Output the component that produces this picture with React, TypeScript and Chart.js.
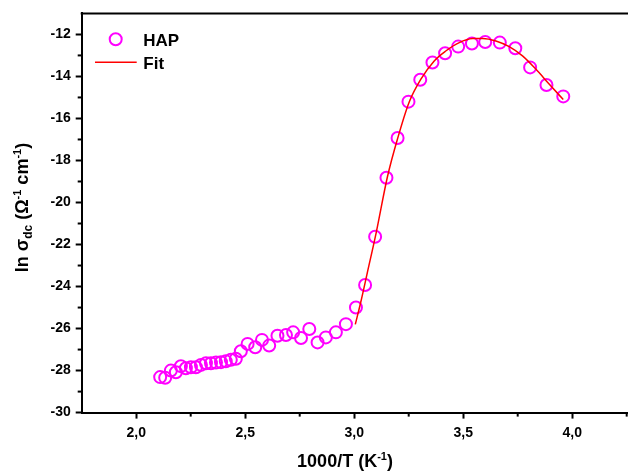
import React, { useEffect, useRef } from "react";
import { Chart, registerables } from "chart.js";

Chart.register(...registerables);

const hapX = [
  2.110, 2.133, 2.159, 2.182, 2.205, 2.228, 2.251, 2.274, 2.297, 2.320,
  2.343, 2.366, 2.389, 2.411, 2.434, 2.457, 2.480, 2.511, 2.546, 2.577,
  2.610, 2.648, 2.687, 2.720, 2.756, 2.794, 2.832, 2.870, 2.916, 2.962,
  3.008, 3.050, 3.096, 3.148, 3.199, 3.249, 3.303, 3.359, 3.417, 3.477,
  3.540, 3.601, 3.668, 3.739, 3.807, 3.882, 3.959,
];
const hapY = [
  -28.31, -28.34, -28.0, -28.08, -27.79, -27.89, -27.84, -27.84, -27.73, -27.65,
  -27.65, -27.62, -27.6, -27.56, -27.49, -27.44, -27.08, -26.73, -26.89, -26.54,
  -26.81, -26.34, -26.31, -26.18, -26.45, -26.02, -26.66, -26.42, -26.18, -25.79,
  -25.0, -23.93, -21.63, -18.82, -16.93, -15.2, -14.16, -13.34, -12.9, -12.58,
  -12.43, -12.36, -12.39, -12.66, -13.57, -14.41, -14.95,
];

const fitX = [
  3.005, 3.03, 3.06, 3.10, 3.153, 3.199, 3.252, 3.306, 3.367, 3.42,
  3.482, 3.543, 3.589, 3.65, 3.711, 3.772, 3.833, 3.894, 3.959,
];
const fitY = [
  -25.8, -24.75, -23.35, -21.48, -18.75, -16.96, -15.23, -14.13, -13.26, -12.79,
  -12.39, -12.2, -12.19, -12.31, -12.58, -13.02, -13.65, -14.36, -15.1,
];

const xTicks = [2.0, 2.5, 3.0, 3.5, 4.0];
const xMinorTicks = [2.25, 2.75, 3.25, 3.75, 4.25];
const yTicks = [-12, -14, -16, -18, -20, -22, -24, -26, -28, -30];
const yMinorTicks = [-13, -15, -17, -19, -21, -23, -25, -27, -29];

const legendLabels = ["HAP", "Fit"];

const FONT = "'Liberation Sans', Arial, sans-serif";
const MAGENTA = "#FF00FF";
const RED = "#FF0000";

type Seg = { t: string; size: number; dy: number };

function drawRich(ctx: CanvasRenderingContext2D, segs: Seg[], cx: number, cy: number) {
  let total = 0;
  for (const s of segs) {
    ctx.font = `bold ${s.size}px ${FONT}`;
    total += ctx.measureText(s.t).width;
  }
  let x = cx - total / 2;
  ctx.textAlign = "left";
  ctx.textBaseline = "alphabetic";
  for (const s of segs) {
    ctx.font = `bold ${s.size}px ${FONT}`;
    ctx.fillText(s.t, x, cy + s.dy);
    x += ctx.measureText(s.t).width;
  }
}

const decorPlugin = {
  id: "decor",
  afterDraw(chart: any) {
    const ctx: CanvasRenderingContext2D = chart.ctx;
    const area = chart.chartArea;
    const xs = chart.scales.x;
    const ys = chart.scales.y;
    ctx.save();
    // top border
    ctx.strokeStyle = "#000";
    ctx.lineWidth = 2;
    ctx.beginPath();
    ctx.moveTo(area.left - 1, area.top);
    ctx.lineTo(area.right, area.top);
    ctx.stroke();
    // minor ticks
    ctx.lineWidth = 2;
    for (const v of yMinorTicks) {
      const p = ys.getPixelForValue(v);
      ctx.beginPath();
      ctx.moveTo(area.left, p);
      ctx.lineTo(area.left - 4, p);
      ctx.stroke();
    }
    for (const v of xMinorTicks) {
      const p = xs.getPixelForValue(v);
      ctx.beginPath();
      ctx.moveTo(p, area.bottom);
      ctx.lineTo(p, area.bottom + 4);
      ctx.stroke();
    }
    // axis titles
    ctx.fillStyle = "#000";
    drawRich(
      ctx,
      [
        { t: "1000/T (K", size: 18, dy: 0 },
        { t: "-1", size: 11, dy: -7 },
        { t: ")", size: 18, dy: 0 },
      ],
      345,
      466.5
    );
    ctx.save();
    ctx.translate(28, 207.5);
    ctx.rotate(-Math.PI / 2);
    drawRich(
      ctx,
      [
        { t: "ln σ", size: 18, dy: 0 },
        { t: "dc", size: 12, dy: 4 },
        { t: " (Ω", size: 18, dy: 0 },
        { t: "-1", size: 11, dy: -7 },
        { t: " cm", size: 18, dy: 0 },
        { t: "-1", size: 11, dy: -7 },
        { t: ")", size: 18, dy: 0 },
      ],
      0,
      0
    );
    ctx.restore();
    // legend
    ctx.strokeStyle = MAGENTA;
    ctx.lineWidth = 2;
    ctx.beginPath();
    ctx.arc(115.7, 39.3, 6, 0, Math.PI * 2);
    ctx.stroke();
    ctx.strokeStyle = RED;
    ctx.lineWidth = 1.5;
    ctx.beginPath();
    ctx.moveTo(95, 62.3);
    ctx.lineTo(136.7, 62.3);
    ctx.stroke();
    ctx.fillStyle = "#000";
    ctx.font = `bold 17px ${FONT}`;
    ctx.textAlign = "left";
    ctx.textBaseline = "alphabetic";
    ctx.fillText(legendLabels[0], 143.3, 45.7);
    ctx.fillText(legendLabels[1], 143.3, 69.3);
    ctx.restore();
  },
};

export default function App() {
  const ref = useRef<HTMLCanvasElement | null>(null);
  useEffect(() => {
    if (!ref.current) return;
    const chart = new Chart(ref.current, {
      type: "scatter",
      data: {
        datasets: [
          {
            label: legendLabels[1],
            data: fitX.map((x, i) => ({ x, y: fitY[i] })),
            showLine: true,
            borderColor: RED,
            borderWidth: 1.5,
            pointRadius: 0,
            cubicInterpolationMode: "monotone",
            fill: false,
          } as any,
          {
            label: legendLabels[0],
            data: hapX.map((x, i) => ({ x, y: hapY[i] })),
            showLine: false,
            pointStyle: "circle",
            pointRadius: 6,
            pointBorderWidth: 2,
            borderColor: MAGENTA,
            backgroundColor: "rgba(0,0,0,0)",
          },
        ],
      },
      options: {
        animation: false,
        responsive: false,
        layout: { padding: { left: 0, top: 10.5, right: 18.8, bottom: 0 } },
        plugins: { legend: { display: false }, tooltip: { enabled: false } },
        scales: {
          x: {
            type: "linear",
            min: 1.75,
            max: 4.5,
            afterBuildTicks: (s: any) => {
              s.ticks = xTicks.map((v) => ({ value: v }));
            },
            afterFit: (s: any) => {
              s.height = 60.4;
            },
            ticks: {
              color: "#000",
              font: { family: FONT, size: 14, weight: "bold" },
              padding: 6,
              callback: (v: any) => Number(v).toFixed(1).replace(".", ","),
            },
            grid: {
              drawOnChartArea: false,
              drawTicks: true,
              tickLength: 6,
              tickWidth: 2,
              tickColor: "#000",
            },
            border: { display: true, color: "#000", width: 2 },
          },
          y: {
            type: "linear",
            min: -30,
            max: -11,
            afterBuildTicks: (s: any) => {
              s.ticks = yTicks.map((v) => ({ value: v }));
            },
            afterFit: (s: any) => {
              s.width = 81.7;
            },
            ticks: {
              color: "#000",
              font: { family: FONT, size: 14, weight: "bold" },
              padding: 5,
              callback: (v: any) => String(v),
            },
            grid: {
              drawOnChartArea: false,
              drawTicks: true,
              tickLength: 6,
              tickWidth: 2,
              tickColor: "#000",
            },
            border: { display: true, color: "#000", width: 2 },
          },
        },
      } as any,
      plugins: [decorPlugin],
    });
    return () => chart.destroy();
  }, []);
  return (
    <div style={{ position: "fixed", left: 0, top: 0, width: 700, height: 473, background: "#fff" }}>
      <canvas ref={ref} width={700} height={473} style={{ display: "block" }} />
    </div>
  );
}
